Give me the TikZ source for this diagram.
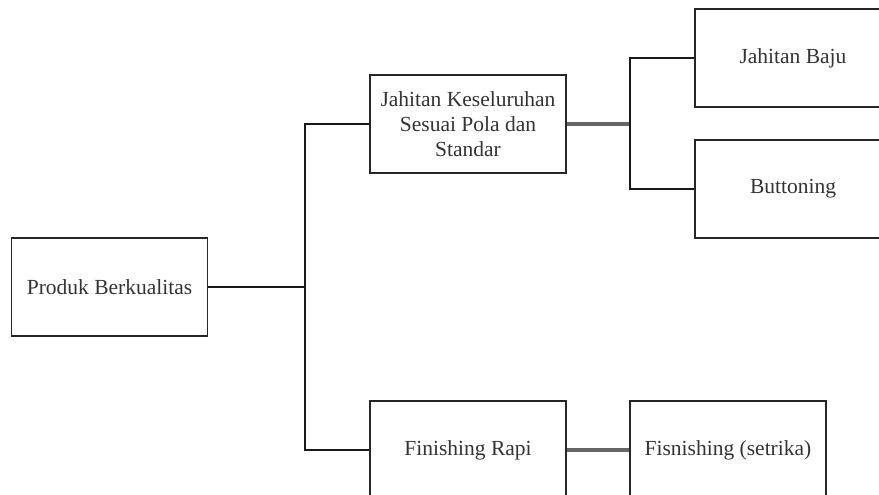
\documentclass[tikz,border=0pt]{standalone}
\usepackage{fontspec}
\setmainfont{Liberation Serif}
\begin{document}
\begin{tikzpicture}[x=1pt,y=-1pt,
  box/.style={draw=black!85, line width=1.6pt, minimum width=196pt, minimum height=98pt,
    inner sep=0pt, align=center, text=black!80, font=\fontsize{21.5}{25}\selectfont},
  conn/.style={draw=black!90, line width=1.3pt},
  thickconn/.style={draw=black!60, line width=3.2pt}]
\useasboundingbox (0,0) rectangle (879,495);
\clip (0,0) rectangle (879,495);
\node[box] (prod) at (109.5,287) {Produk Berkualitas};
\node[box] (jk) at (468,124) {Jahitan Keseluruhan\\Sesuai Pola dan\\Standar};
\node[box] (fr) at (468,450) {Finishing Rapi};
\node[box] (jb) at (793,58) {Jahitan Baju};
\node[box] (bt) at (793,189) {Buttoning};
\node[box] (fs) at (728,450) {Fisnishing (setrika)};
\coordinate (b) at (305,287);
\coordinate (c) at (630,124);
\draw[conn] (prod.east) -- (b);
\draw[conn] (jk.west) -| (b);
\draw[conn] (fr.west) -| (b);
\draw[thickconn] (jk.east) -- (c);
\draw[conn] (jb.west) -| (c);
\draw[conn] (bt.west) -| (c);
\draw[thickconn] (fr.east) -- (fs.west);
\end{tikzpicture}
\end{document}
